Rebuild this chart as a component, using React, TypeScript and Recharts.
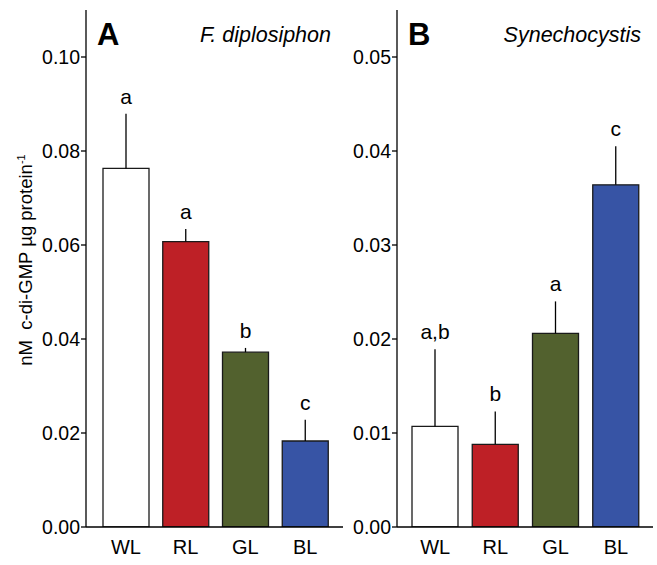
import { BarChart, Bar, XAxis, YAxis, ErrorBar, LabelList, Cell, Label } from "recharts";

const categories = ["WL", "RL", "GL", "BL"];
const barColors = ["#ffffff", "#be2026", "#52612e", "#3754a5"];

const fdipValues = [0.0763, 0.0607, 0.0372, 0.0183];
const fdipErrors = [0.0116, 0.0027, 0.0009, 0.0045];
const fdipLetters = ["a", "a", "b", "c"];
const fdipTicks = [0, 0.02, 0.04, 0.06, 0.08, 0.1];

const synValues = [0.0107, 0.0088, 0.0206, 0.0364];
const synErrors = [0.0082, 0.0035, 0.0034, 0.0041];
const synLetters = ["a,b", "b", "a", "c"];
const synTicks = [0, 0.01, 0.02, 0.03, 0.04, 0.05];

const FONT = "'Liberation Sans', Arial, sans-serif";

const makeData = (values: number[], errors: number[], letters: string[]) =>
  categories.map((cat, i) => ({ cat, val: values[i], err: [0, errors[i]], letter: letters[i] }));

const fdipData = makeData(fdipValues, fdipErrors, fdipLetters);
const synData = makeData(synValues, synErrors, synLetters);

// letter sits a little above the top of the error line
const letterContent = (values: number[], errors: number[]) => (props: any) => {
  const { x, y, width, height, value, index } = props;
  const pxPerUnit = height / values[index];
  const errTop = y - errors[index] * pxPerUnit;
  return (
    <text x={x + width / 2} y={errTop - 10} textAnchor="middle" fontSize={21} fontFamily={FONT} fill="#000">
      {value}
    </text>
  );
};

const YLabel = () => {
  const cx = 32;
  const cy = 260;
  return (
    <text x={cx} y={cy} transform={`rotate(-90 ${cx} ${cy})`} textAnchor="middle" fontSize={18.5} fontFamily={FONT} fill="#000">
      {"nM\u00a0\u00a0c-di-GMP µg protein"}
      <tspan fontSize={11} dy={-7}>-1</tspan>
    </text>
  );
};

const XTick = (props: any) => {
  const { x, y, payload } = props;
  return (
    <text x={x} y={y + 27} textAnchor="middle" fontSize={20} fontFamily={FONT} fill="#000">
      {payload.value}
    </text>
  );
};

const YTick = (props: any) => {
  const { x, y, payload } = props;
  return (
    <text x={x} y={y + 7} textAnchor="end" fontSize={19.5} fontFamily={FONT} fill="#000">
      {Number(payload.value).toFixed(2)}
    </text>
  );
};

type PanelProps = {
  data: any[];
  values: number[];
  errors: number[];
  ticks: number[];
  domainMax: number;
  width: number;
  yWidth: number;
  rightMargin: number;
  pad: { left: number; right: number };
  letter: string;
  species: string;
  showYLabel?: boolean;
};

const Panel = ({ data, values, errors, ticks, domainMax, width, yWidth, rightMargin, pad, letter, species, showYLabel }: PanelProps) => (
  <BarChart width={width} height={565} data={data} margin={{ top: 10, right: rightMargin, bottom: 0, left: 0 }}>
    <XAxis
      dataKey="cat"
      height={38}
      padding={pad}
      tickLine={false}
      tickSize={0}
      tickMargin={0}
      axisLine={{ stroke: "#000", strokeWidth: 1.3 }}
      tick={XTick}
    />
    <XAxis xAxisId="top" dataKey="cat" orientation="top" height={0} tick={false} tickLine={false} axisLine={{ stroke: "#000", strokeWidth: 1.3 }} />
    <YAxis
      width={yWidth}
      domain={[0, domainMax]}
      ticks={ticks}
      tickSize={5}
      tickMargin={1}
      allowDataOverflow
      axisLine={{ stroke: "#000", strokeWidth: 1.3 }}
      tickLine={{ stroke: "#000", strokeWidth: 1.3 }}
      tick={YTick}
    >
      {showYLabel && <Label content={YLabel} />}
    </YAxis>
    <YAxis yAxisId="right" orientation="right" width={0} domain={[0, 1]} tick={false} tickLine={false} axisLine={{ stroke: "#000", strokeWidth: 1.3 }} />
    <Bar dataKey="val" barSize={46} stroke="#1a1a1a" strokeWidth={1.3} isAnimationActive={false}>
      {data.map((_, i) => (
        <Cell key={i} fill={barColors[i]} />
      ))}
      <ErrorBar dataKey="err" direction="y" width={0} stroke="#000" strokeWidth={1.3} />
      <LabelList dataKey="letter" content={letterContent(values, errors)} />
    </Bar>
    <text x={yWidth + 11} y={45} fontSize={31} fontWeight="bold" fontFamily={FONT} fill="#000">
      {letter}
    </text>
    <text x={width - rightMargin - 12} y={42} textAnchor="end" fontSize={21.5} fontStyle="italic" fontFamily={FONT} fill="#000">
      {species}
    </text>
  </BarChart>
);

export default function App() {
  return (
    <div style={{ position: "absolute", left: 0, top: 0, width: 657, height: 565, display: "flex", background: "#fff" }}>
      <Panel
        data={fdipData}
        values={fdipValues}
        errors={fdipErrors}
        ticks={fdipTicks}
        domainMax={0.11}
        width={350}
        yWidth={86}
        rightMargin={7}
        pad={{ left: 10, right: 8 }}
        letter="A"
        species="F. diplosiphon"
        showYLabel
      />
      <Panel
        data={synData}
        values={synValues}
        errors={synErrors}
        ticks={synTicks}
        domainMax={0.055}
        width={307}
        yWidth={47}
        rightMargin={4}
        pad={{ left: 8, right: 7 }}
        letter="B"
        species="Synechocystis"
      />
    </div>
  );
}
